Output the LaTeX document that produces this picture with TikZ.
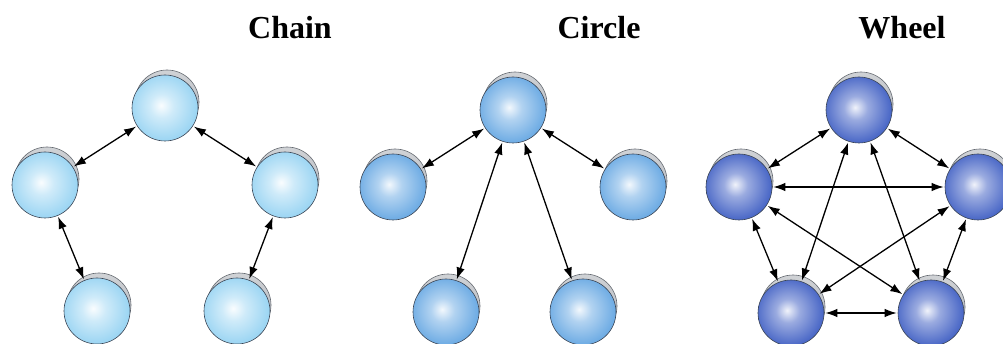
\documentclass[tikz,border=0pt]{standalone}
\usepackage{fontspec}
\setmainfont{Liberation Serif}
\usetikzlibrary{arrows.meta,backgrounds}

% sphere colours
\definecolor{chainmid}{RGB}{148,210,242}
\definecolor{chainedge}{RGB}{108,184,230}
\definecolor{circlemid}{RGB}{100,166,226}
\definecolor{circleedge}{RGB}{66,130,204}
\definecolor{wheelmid}{RGB}{72,102,198}
\definecolor{wheeledge}{RGB}{40,64,158}
\definecolor{ballline}{RGB}{60,70,85}
\definecolor{capgray}{RGB}{176,180,186}
\definecolor{capline}{RGB}{100,105,112}

% soft radial highlight, slightly up and left of centre
\pgfdeclareradialshading{chainball}{\pgfpoint{-3bp}{2bp}}{%
  color(0bp)=(white!95!chainmid); color(9bp)=(white!55!chainmid);
  color(28bp)=(chainmid); color(46bp)=(chainedge); color(50bp)=(chainedge)}
\pgfdeclareradialshading{circleball}{\pgfpoint{-3bp}{2bp}}{%
  color(0bp)=(white!92!circlemid); color(9bp)=(white!50!circlemid);
  color(28bp)=(circlemid); color(46bp)=(circleedge); color(50bp)=(circleedge)}
\pgfdeclareradialshading{wheelball}{\pgfpoint{-3bp}{2bp}}{%
  color(0bp)=(white!92!wheelmid); color(9bp)=(white!45!wheelmid);
  color(26bp)=(wheelmid); color(46bp)=(wheeledge); color(50bp)=(wheeledge)}

\begin{document}
\begin{tikzpicture}[x=1pt,y=-1pt,
  ball/.style={circle, minimum size=66pt, inner sep=0pt, draw=ballline, line width=0.6pt},
  chainnode/.style={ball, shade, shading=chainball},
  circlenode/.style={ball, shade, shading=circleball},
  wheelnode/.style={ball, shade, shading=wheelball},
  ballcap/.style={top color=capgray!60!white, bottom color=capgray, draw=capline, line width=0.6pt},
  link/.style={{Latex[length=12pt,width=8.5pt]}-{Latex[length=12pt,width=8.5pt]},
               line width=1.3pt, shorten <=1pt, shorten >=1pt},
  title/.style={font=\fontsize{32}{36}\selectfont\bfseries, anchor=base}]
\useasboundingbox (0,0) rectangle (1003,344);

% titles
\node[title] (tchain)  at (290,39) {Chain};
\node[title] (tcircle) at (599,39) {Circle};
\node[title] (twheel)  at (902,39) {Wheel};

% Chain
\node[chainnode] (c1) at (165,108) {};
\node[chainnode] (c2) at (45,185) {};
\node[chainnode] (c3) at (285,185) {};
\node[chainnode] (c4) at (97,311) {};
\node[chainnode] (c5) at (237,311) {};

% Circle
\node[circlenode] (r1) at (513,110) {};
\node[circlenode] (r2) at (393,187) {};
\node[circlenode] (r3) at (633,187) {};
\node[circlenode] (r4) at (446,312) {};
\node[circlenode] (r5) at (583,312) {};

% Wheel
\node[wheelnode] (w1) at (859,110) {};
\node[wheelnode] (w2) at (739,187) {};
\node[wheelnode] (w3) at (978,187) {};
\node[wheelnode] (w4) at (791,313) {};
\node[wheelnode] (w5) at (931,313) {};

% grey caps peeking out behind each sphere
\begin{scope}[on background layer]
  \foreach \n in {c1,c2,c3,c4,c5,r1,r2,r3,r4,r5,w1,w2,w3,w4,w5}
    \draw[ballcap] ([shift={(2,-6)}]\n.center) circle (32);
\end{scope}

% links
\draw[link] (c1) -- (c2);
\draw[link] (c1) -- (c3);
\draw[link] (c2) -- (c4);
\draw[link] (c3) -- (c5);

\draw[link] (r1) -- (r2);
\draw[link] (r1) -- (r3);
\draw[link] (r1) -- (r4);
\draw[link] (r1) -- (r5);

\draw[link] (w1) -- (w2);
\draw[link] (w1) -- (w3);
\draw[link] (w1) -- (w4);
\draw[link] (w1) -- (w5);
\draw[link] (w2) -- (w3);
\draw[link] (w2) -- (w4);
\draw[link] (w2) -- (w5);
\draw[link] (w3) -- (w4);
\draw[link] (w3) -- (w5);
\draw[link] (w4) -- (w5);
\end{tikzpicture}
\end{document}
